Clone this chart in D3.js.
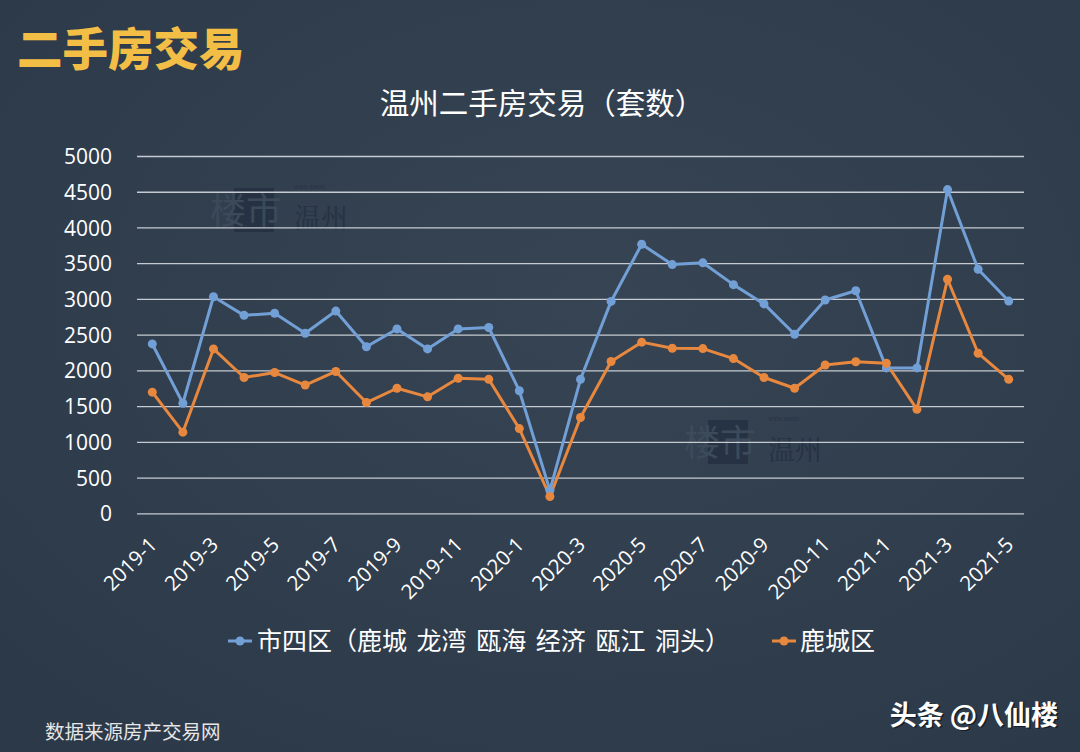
<!DOCTYPE html>
<html><head><meta charset="utf-8">
<script src="https://cdn.jsdelivr.net/npm/d3@7/dist/d3.min.js"></script>
<style>
html,body{margin:0;padding:0;background:#2f3d4d;}
svg{display:block;}
</style></head>
<body>
<svg id="c" width="1080" height="752"></svg>
<script>
const categories = ["2019-1","2019-2","2019-3","2019-4","2019-5","2019-6","2019-7","2019-8","2019-9","2019-10","2019-11","2019-12",
"2020-1","2020-2","2020-3","2020-4","2020-5","2020-6","2020-7","2020-8","2020-9","2020-10","2020-11","2020-12",
"2021-1","2021-2","2021-3","2021-4","2021-5"];
const cityFour = [2370,1540,3030,2770,2800,2520,2830,2330,2580,2300,2580,2600,1715,320,1875,2965,3765,3480,3505,3200,2930,2505,2985,3115,2035,2035,4530,3415,2970];
const lucheng = [1695,1135,2300,1900,1970,1795,1985,1550,1750,1630,1890,1875,1185,235,1340,2125,2395,2310,2305,2165,1900,1750,2075,2120,2100,1455,3275,2240,1875];
const xTickLabels = ["2019-1","2019-3","2019-5","2019-7","2019-9","2019-11","2020-1","2020-3","2020-5","2020-7","2020-9","2020-11","2021-1","2021-3","2021-5"];
const yTicks = [0,500,1000,1500,2000,2500,3000,3500,4000,4500,5000];
const seriesNames = ["市四区（鹿城 龙湾 瓯海 经济 瓯江 洞头）","鹿城区"];

const svg = d3.select("#c");
const W = 1080, H = 752;
const FONT = "'Open Sans','Noto Sans CJK SC',sans-serif";
const CJK = "'Noto Sans CJK SC','Noto Sans',sans-serif";

// background
const defs = svg.append("defs");
const rg = defs.append("radialGradient").attr("id","bg").attr("cx","55%").attr("cy","40%").attr("r","75%");
rg.append("stop").attr("offset","0%").attr("stop-color","#364454");
rg.append("stop").attr("offset","100%").attr("stop-color","#2c3949");
svg.append("rect").attr("width",W).attr("height",H).attr("fill","url(#bg)");

// watermarks
function watermark(x,y){
  const g = svg.append("g").attr("opacity",0.6);
  g.append("rect").attr("x",x+24).attr("y",y-20).attr("width",40).attr("height",44).attr("fill","#1f2a3c");
  g.append("text").attr("x",x).attr("y",y+16).attr("font-family",CJK).attr("font-size",36).attr("fill","#435260").text("楼市");
  g.append("text").attr("x",x+84).attr("y",y-19).attr("font-family","serif").attr("font-size",6).attr("fill","#1f2a3c").text("WEN ZHOU");
  g.append("text").attr("x",x+84).attr("y",y+20).attr("font-family","'Noto Serif CJK SC',"+CJK).attr("font-size",27).attr("fill","#1f2a3c").text("温州");
}
watermark(210,208);
watermark(684,440);

const x = d3.scaleBand().domain(categories).range([137,1024]).padding(0);
const cx = d => x(d) + x.bandwidth()/2;
const y = d3.scaleLinear().domain([0,5000]).range([513.3,156]);

// grid lines
const yAxis = d3.axisLeft(y).tickValues(yTicks).tickSize(-(1024-137)).tickFormat(d3.format("d")).tickPadding(25);
const gy = svg.append("g").attr("transform","translate(137,0)").call(yAxis);
gy.select(".domain").remove();
gy.selectAll(".tick line").attr("stroke","#c6cbd1").attr("stroke-width",1.3);
gy.selectAll(".tick text").attr("font-family",FONT).attr("font-size",21).attr("fill","#ffffff").attr("x",-25).attr("dy","0.36em");

// x labels
const xAxis = d3.axisBottom(x).tickValues(xTickLabels).tickSize(0).tickFormat(d=>d);
const gx = svg.append("g").attr("transform","translate(0,513)").call(xAxis);
gx.select(".domain").remove();
gx.selectAll(".tick text")
  .attr("font-family",FONT).attr("font-size",20.5).attr("fill","#ffffff")
  .attr("text-anchor","end").attr("dy",0).attr("y",0)
  .attr("transform","translate(6,33) rotate(-45)");

// lines
const colors = ["#72a0d6","#e8883e"];
const seriesData = [cityFour, lucheng];
const line = d3.line().x((d,i)=>cx(categories[i])).y(d=>y(d));
seriesData.forEach((vals,k)=>{
  svg.append("path").datum(vals).attr("d",line).attr("fill","none")
    .attr("stroke",colors[k]).attr("stroke-width",3).attr("stroke-linejoin","round");
});
seriesData.forEach((vals,k)=>{
  svg.append("g").selectAll("circle").data(vals).join("circle")
    .attr("cx",(d,i)=>cx(categories[i])).attr("cy",d=>y(d)).attr("r",4.5).attr("fill",colors[k]);
});

// legend
const legendItems = [{x:228,tx:257},{x:772,tx:800}];
legendItems.forEach((it,k)=>{
  svg.append("line").attr("x1",it.x).attr("x2",it.x+24).attr("y1",641).attr("y2",641).attr("stroke",colors[k]).attr("stroke-width",3);
  svg.append("circle").attr("cx",it.x+12).attr("cy",641).attr("r",4.5).attr("fill",colors[k]);
  svg.append("text").attr("x",it.tx).attr("y",641).attr("dy","0.36em").attr("font-family",CJK).attr("font-size",25)
    .attr("word-spacing",4).attr("fill","#ffffff").text(seriesNames[k]);
});

// titles
svg.append("text").attr("x",17).attr("y",50).attr("dy","0.36em").attr("font-family",CJK).attr("font-weight",900)
  .attr("font-size",45.5).attr("fill","#f3be46").text("二手房交易");
svg.append("text").attr("x",542).attr("y",103).attr("dy","0.36em").attr("text-anchor","middle").attr("font-family",CJK)
  .attr("font-size",29.5).attr("fill","#ffffff").text("温州二手房交易（套数）");

// footer
svg.append("text").attr("x",45).attr("y",732).attr("dy","0.36em").attr("font-family",CJK).attr("font-size",19.5).attr("fill","#e6e6e6").text("数据来源房产交易网");
svg.append("text").attr("x",1058).attr("y",715).attr("dy","0.36em").attr("text-anchor","end").attr("font-family",CJK).attr("font-weight",700)
  .attr("font-size",27).attr("fill","#000000").attr("opacity",0.5).attr("transform","translate(1.5,1.5)").text("头条 @八仙楼");
svg.append("text").attr("x",1058).attr("y",715).attr("dy","0.36em").attr("text-anchor","end").attr("font-family",CJK).attr("font-weight",700)
  .attr("font-size",27).attr("fill","#ffffff").text("头条 @八仙楼");
</script>
</body></html>
